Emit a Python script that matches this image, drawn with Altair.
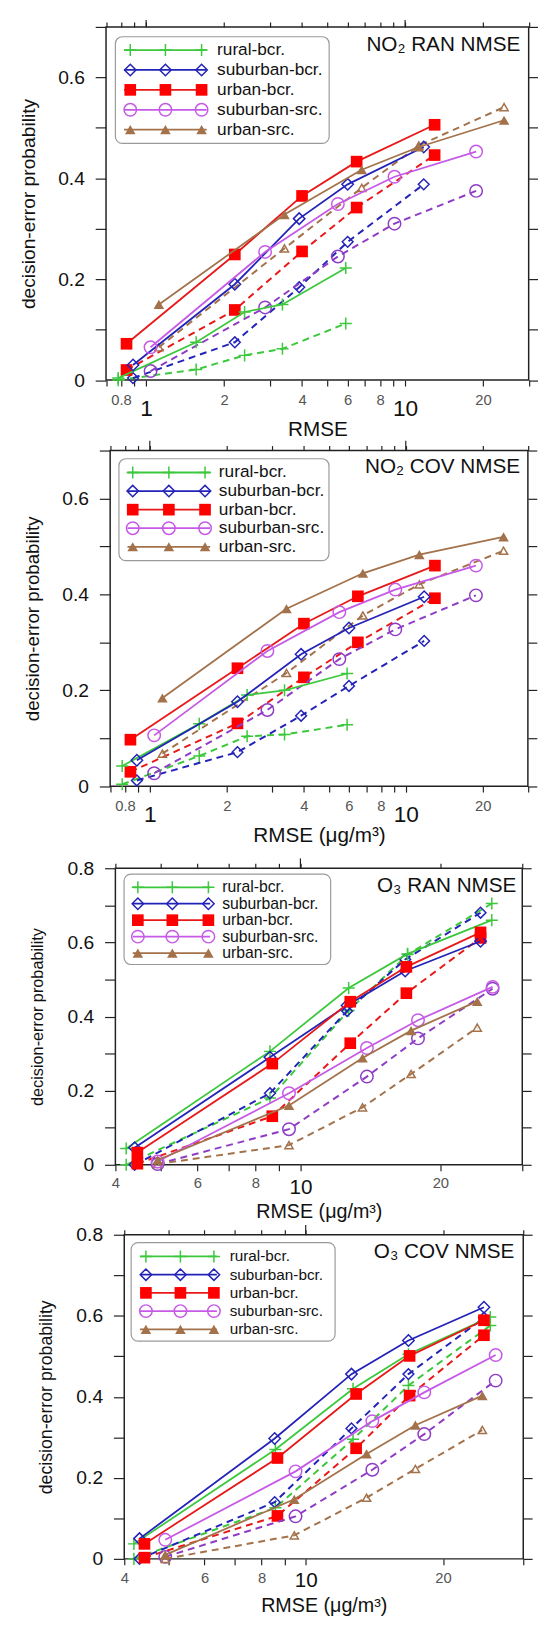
import json
import altair as alt
import pandas as pd

FONT = "Liberation Sans"

SERIES = ["rural-bcr.", "suburban-bcr.", "urban-bcr.", "suburban-src.", "urban-src."]

# ---------------- NO2 RAN NMSE ----------------
NO2_RAN_X = [
    [0.78, 1.56, 2.4, 3.36, 5.9],
    [0.89, 2.2, 3.9, 6.0, 11.8],
    [0.84, 2.2, 4.0, 6.5, 13.0],
    [1.04, 2.88, 5.5, 9.1, 18.8],
    [1.12, 3.42, 6.8, 11.3, 24.1],
]
NO2_RAN_SOLID = [
    [0.004, 0.075, 0.135, 0.15, 0.222],
    [0.03, 0.19, 0.32, 0.388, 0.462],
    [0.072, 0.249, 0.365, 0.433, 0.506],
    [0.065, 0.254, 0.349, 0.403, 0.453],
    [0.15, 0.328, 0.417, 0.462, 0.515],
]
NO2_RAN_DASHED = [
    [0.0, 0.021, 0.049, 0.062, 0.112],
    [0.004, 0.075, 0.184, 0.274, 0.388],
    [0.02, 0.139, 0.255, 0.342, 0.446],
    [0.018, 0.144, 0.245, 0.31, 0.375],
    [0.065, 0.261, 0.381, 0.465, 0.541],
]

# ---------------- NO2 COV NMSE ----------------
NO2_COV_X = [
    [0.78, 1.56, 2.4, 3.36, 5.9],
    [0.89, 2.2, 3.9, 6.0, 11.8],
    [0.84, 2.2, 4.0, 6.5, 13.0],
    [1.04, 2.88, 5.5, 9.1, 18.8],
    [1.12, 3.42, 6.8, 11.3, 24.1],
]
NO2_COV_SOLID = [
    [0.042, 0.13, 0.19, 0.20, 0.235],
    [0.054, 0.176, 0.275, 0.33, 0.395],
    [0.097, 0.246, 0.339, 0.396, 0.46],
    [0.106, 0.282, 0.363, 0.41, 0.46],
    [0.184, 0.37, 0.444, 0.483, 0.52],
]
NO2_COV_DASHED = [
    [0.004, 0.063, 0.104, 0.108, 0.128],
    [0.012, 0.071, 0.147, 0.209, 0.303],
    [0.03, 0.131, 0.227, 0.30, 0.392],
    [0.027, 0.159, 0.265, 0.327, 0.398],
    [0.068, 0.236, 0.356, 0.421, 0.491],
]

# ---------------- O3 RAN NMSE ----------------
O3_RAN_X = [
    [4.22, 8.6, 12.7, 17.0, 25.8],
    [4.4, 8.6, 12.6, 16.8, 24.4],
    [4.46, 8.7, 12.8, 16.9, 24.4],
    [4.93, 9.45, 13.9, 17.9, 25.9],
    [4.93, 9.45, 13.6, 17.3, 24.0],
]
O3_RAN_SOLID = [
    [0.044, 0.306, 0.477, 0.569, 0.66],
    [0.046, 0.29, 0.43, 0.523, 0.603],
    [0.033, 0.273, 0.44, 0.534, 0.627],
    [0.009, 0.193, 0.315, 0.39, 0.48],
    [0.013, 0.16, 0.288, 0.362, 0.441],
]
O3_RAN_DASHED = [
    [0.0, 0.18, 0.416, 0.567, 0.705],
    [0.0, 0.193, 0.415, 0.554, 0.68],
    [0.003, 0.131, 0.328, 0.463, 0.612],
    [0.002, 0.096, 0.238, 0.341, 0.475],
    [0.002, 0.053, 0.155, 0.245, 0.37],
]

# ---------------- O3 COV NMSE ----------------
O3_COV_X = [
    [4.2, 8.58, 12.7, 16.8, 25.4],
    [4.32, 8.55, 12.6, 16.8, 24.6],
    [4.43, 8.67, 12.9, 16.9, 24.6],
    [4.92, 9.5, 14.0, 18.2, 26.1],
    [4.92, 9.44, 13.6, 17.4, 24.4],
]
O3_COV_SOLID = [
    [0.037, 0.27, 0.42, 0.505, 0.597],
    [0.05, 0.297, 0.456, 0.539, 0.621],
    [0.037, 0.249, 0.407, 0.501, 0.589],
    [0.047, 0.216, 0.34, 0.411, 0.503],
    [0.01, 0.147, 0.259, 0.33, 0.403],
]
O3_COV_DASHED = [
    [0.0, 0.126, 0.295, 0.428, 0.576],
    [0.0, 0.14, 0.322, 0.456, 0.595],
    [0.003, 0.106, 0.273, 0.403, 0.552],
    [0.005, 0.105, 0.22, 0.308, 0.44],
    [0.0, 0.058, 0.151, 0.222, 0.318],
]

# ---------------- ticks ----------------
X_TICKS_NO2 = [0.7, 0.8, 0.9, 1, 2, 3, 4, 5, 6, 7, 8, 9, 10, 20, 30]
X_LABELS_NO2 = [0.8, 1, 2, 4, 6, 8, 10, 20]
X_TICKS_O3 = [4, 5, 6, 7, 8, 9, 10, 20, 30]
X_LABELS_O3 = [4, 6, 8, 10, 20]
X_MAJOR = [1, 10]
Y_TICKS_NO2 = [0, 0.1, 0.2, 0.3, 0.4, 0.5, 0.6, 0.7]
Y_LABELS_NO2 = [0, 0.2, 0.4, 0.6]
Y_TICKS_O3 = [0, 0.1, 0.2, 0.3, 0.4, 0.5, 0.6, 0.7, 0.8]
Y_LABELS_O3 = [0, 0.2, 0.4, 0.6, 0.8]

# ---------------- styles ----------------
CROSS = "M-1,0L1,0M0,-1L0,1"
STYLE = [
    dict(line="#3cc83c", dline="#3cc83c", mcol="#3cc83c", dmcol="#3cc83c", shape=CROSS,
         size=150, filled=False, dsize=150, dfilled=False),
    dict(line="#2323b8", dline="#2323b8", mcol="#2323b8", dmcol="#2323b8", shape="diamond",
         size=135, filled=False, dsize=120, dfilled=False),
    dict(line="#e81818", dline="#e81818", mcol="#ff0000", dmcol="#ff0000", shape="square",
         size=140, filled=True, dsize=140, dfilled=True),
    dict(line="#c65ae6", dline="#8e3cc6", mcol="#c65ae6", dmcol="#8e3cc6", shape="circle",
         size=160, filled=False, dsize=160, dfilled=False),
    dict(line="#a3724a", dline="#a3724a", mcol="#a3724a", dmcol="#a3724a", shape="triangle-up",
         size=115, filled=True, dsize=70, dfilled=False),
]

CANVAS_W, CANVAS_H = 540, 1622
DUMMY = pd.DataFrame({"d": [0]})
BIG = "datum.value == 1 || datum.value == 10"


def label_expr(labels):
    return f"indexof({json.dumps(labels)}, datum.value) >= 0 ? format(datum.value, '~g') : ''"


def panel_layers(xrows, srows, drows, c):
    L, R, T, Bm = c["L"], c["R"], c["T"], c["Bm"]
    xs = alt.Scale(type="log", domain=c["xdom"], range=[L, R], nice=False)
    ys = alt.Scale(domain=c["ydom"], range=[Bm, T], nice=False, zero=False)

    def enc(axis_x=None, axis_y=None):
        return dict(
            x=alt.X("x:Q", scale=xs, axis=axis_x),
            y=alt.Y("y:Q", scale=ys, axis=axis_y),
        )

    layers = []
    corner = pd.DataFrame({"x": c["xdom"], "y": c["ydom"]})

    # frame
    frame = pd.DataFrame({"x": [c["xdom"][0]], "x2": [c["xdom"][1]],
                          "y": [c["ydom"][0]], "y2": [c["ydom"][1]]})
    layers.append(
        alt.Chart(frame).mark_rect(fillOpacity=0, stroke="#222", strokeWidth=1.5).encode(
            x=alt.X("x:Q", scale=xs, axis=None), x2="x2:Q",
            y=alt.Y("y:Q", scale=ys, axis=None), y2="y2:Q",
        )
    )

    # axes
    bottom = alt.Axis(
        orient="bottom", offset=Bm - CANVAS_H, values=c["xticks"], grid=False, domain=False,
        tickSize=6, tickColor="#222", tickWidth=1.2,
        labelExpr=label_expr(c["xlabels"]), labelFont=FONT,
        labelFontSize={"condition": {"test": BIG, "value": c["bigfs"]}, "value": 15},
        labelColor={"condition": {"test": BIG, "value": "#111"}, "value": "#555"},
        labelPadding={"condition": {"test": BIG, "value": c["bigpad"]}, "value": c["smallpad"]},
        labelFlush=False, labelOverlap=False, labelBound=False,
        title=c["xtitle"], titleFont=FONT, titleFontSize=c["xtitle_fs"], titleFontWeight="normal",
        titleColor="#111", titleY=c["xtitle_y"], titleBaseline="middle",
    )
    left = alt.Axis(
        orient="left", offset=-L, values=c["yticks"], grid=False, domain=False,
        tickSize=11, tickColor="#222", tickWidth=1.2,
        labelExpr=label_expr(c["ylabels"]), labelFont=FONT, labelFontSize=19.5,
        labelColor="#111", labelPadding=11, labelOverlap=False,
        title="decision-error probability", titleFont=FONT, titleFontSize=c["ytitle_fs"],
        titleFontWeight="normal", titleColor="#111", titleX=-79, titleBaseline="middle",
    )
    top = alt.Axis(
        orient="top", offset=-T, values=c["xticks"], grid=False, domain=False, labels=False,
        tickSize=5, tickColor="#222", tickWidth=1.2, title=None,
    )
    right = alt.Axis(
        orient="right", offset=R - CANVAS_W, values=c["yticks"], grid=False, domain=False,
        labels=False, tickSize=9, tickColor="#222", tickWidth=1.2, title=None,
    )
    layers.append(alt.Chart(corner).mark_point(opacity=0).encode(**enc(bottom, left)))
    layers.append(alt.Chart(corner).mark_point(opacity=0).encode(**enc(top, None)))
    layers.append(alt.Chart(corner).mark_point(opacity=0).encode(**enc(None, right)))

    # taller top ticks at the decades
    major = pd.DataFrame({"x": [v for v in X_MAJOR if c["xdom"][0] <= v <= c["xdom"][1]]})
    layers.append(
        alt.Chart(major).mark_rule(color="#222", strokeWidth=1.2).encode(
            x=alt.X("x:Q", scale=xs, axis=None), y=alt.value(T - c["tall"]), y2=alt.value(T)
        )
    )

    # data: dashed first, then solid
    for kind in ("dashed", "solid"):
        rows = drows if kind == "dashed" else srows
        for i, st in enumerate(STYLE):
            df = pd.DataFrame({"x": xrows[i], "y": rows[i]})
            if kind == "dashed":
                ln = alt.Chart(df).mark_line(color=st["dline"], strokeWidth=2, strokeDash=[7, 5])
                pt = alt.Chart(df).mark_point(shape=st["shape"], size=st["dsize"], filled=st["dfilled"],
                                              color=st["dmcol"], opacity=1, strokeWidth=1.5)
            else:
                ln = alt.Chart(df).mark_line(color=st["line"], strokeWidth=1.8)
                pt = alt.Chart(df).mark_point(shape=st["shape"], size=st["size"], filled=st["filled"],
                                              color=st["mcol"], opacity=1, strokeWidth=1.5)
            layers.append(ln.encode(**enc()))
            layers.append(pt.encode(**enc()))

    # legend
    bx0, by0, bx1, by1 = c["box"]
    layers.append(
        alt.Chart(DUMMY).mark_rect(fill="white", stroke="#9a9a9a", strokeWidth=1.2, cornerRadius=7).encode(
            x=alt.value(L + bx0), x2=alt.value(L + bx1), y=alt.value(T + by0), y2=alt.value(T + by1)
        )
    )
    for i, (name, st) in enumerate(zip(SERIES, STYLE)):
        yy = T + c["ly0"] + i * c["ldy"]
        layers.append(
            alt.Chart(DUMMY).mark_rule(color=st["line"], strokeWidth=1.8).encode(
                x=alt.value(L + c["lx0"]), x2=alt.value(L + c["lx1"]), y=alt.value(yy)
            )
        )
        for mx in c["lmark"]:
            layers.append(
                alt.Chart(DUMMY).mark_point(shape=st["shape"], size=st["size"], filled=st["filled"],
                                            color=st["mcol"], opacity=1, strokeWidth=1.5).encode(
                    x=alt.value(L + mx), y=alt.value(yy)
                )
            )
        layers.append(
            alt.Chart(DUMMY).mark_text(text=name, align="left", baseline="middle", font=FONT,
                                       fontSize=c["lfs"], color="#111").encode(
                x=alt.value(L + c["ltx"]), y=alt.value(yy)
            )
        )

    # panel title
    layers.append(
        alt.Chart(DUMMY).mark_text(text=c["title"], align="right", baseline="middle", font=FONT,
                                   fontSize=21, color="#111").encode(
            x=alt.value(L + c["tx"]), y=alt.value(T + c["ty"])
        )
    )
    return layers


P1 = dict(L=99.5, R=528.5, T=7, Bm=365.5, xdom=[0.7, 30], ydom=[0, 0.7],
          xticks=X_TICKS_NO2, xlabels=X_LABELS_NO2, yticks=Y_TICKS_NO2, ylabels=Y_LABELS_NO2,
          bigfs=23, bigpad=12, smallpad=6.5, tall=7,
          xtitle="RMSE", xtitle_y=50.5, xtitle_fs=21, ytitle_fs=19.5,
          box=(9.5, 10, 226.5, 118.3), ly0=23.5, ldy=20.2, lx0=18.3, lx1=102.2,
          lmark=[24.6, 60.3, 97], ltx=112.7, lfs=17.5,
          title="NO₂ RAN NMSE", tx=420.5, ty=18.3)
P2 = dict(L=103.7, R=527.7, T=437, Bm=777.7, xdom=[0.7, 30], ydom=[0, 0.7],
          xticks=X_TICKS_NO2, xlabels=X_LABELS_NO2, yticks=Y_TICKS_NO2, ylabels=Y_LABELS_NO2,
          bigfs=23, bigpad=12, smallpad=6.5, tall=10,
          xtitle="RMSE (μg/m³)", xtitle_y=50.5, xtitle_fs=21, ytitle_fs=19,
          box=(8.9, 8.3, 222.1, 111.7), ly0=22.3, ldy=18.85, lx0=17.6, lx1=101.5,
          lmark=[22.9, 59.6, 96.3], ltx=110.3, lfs=17.5,
          title="NO₂ COV NMSE", tx=416, ty=16.7)
P3 = dict(L=109, R=522, T=861, Bm=1162, xdom=[4, 30], ydom=[0, 0.8],
          xticks=X_TICKS_O3, xlabels=X_LABELS_O3, yticks=Y_TICKS_O3, ylabels=Y_LABELS_O3,
          bigfs=21, bigpad=6, smallpad=5.5, tall=10,
          xtitle="RMSE (μg/m³)", xtitle_y=48, xtitle_fs=20, ytitle_fs=16.5,
          box=(8.8, 6, 218.5, 97.7), ly0=19.3, ldy=16.7, lx0=17.6, lx1=96.2,
          lmark=[22.8, 57.8, 94.4], ltx=108.4, lfs=16,
          title="O₃ RAN NMSE", tx=407, ty=17.7)
P4 = dict(L=118, R=523, T=1233, Bm=1562, xdom=[4, 30], ydom=[0, 0.8],
          xticks=X_TICKS_O3, xlabels=X_LABELS_O3, yticks=Y_TICKS_O3, ylabels=Y_LABELS_O3,
          bigfs=21, bigpad=5.5, smallpad=5.5, tall=10,
          xtitle="RMSE (μg/m³)", xtitle_y=47.5, xtitle_fs=20, ytitle_fs=18,
          box=(7, 8, 214, 108), ly0=22, ldy=18.5, lx0=16, lx1=94,
          lmark=[22, 57, 91], ltx=107, lfs=15.5,
          title="O₃ COV NMSE", tx=396, ty=18)

all_layers = (
    panel_layers(NO2_RAN_X, NO2_RAN_SOLID, NO2_RAN_DASHED, P1)
    + panel_layers(NO2_COV_X, NO2_COV_SOLID, NO2_COV_DASHED, P2)
    + panel_layers(O3_RAN_X, O3_RAN_SOLID, O3_RAN_DASHED, P3)
    + panel_layers(O3_COV_X, O3_COV_SOLID, O3_COV_DASHED, P4)
)

chart = (
    alt.layer(*all_layers)
    .resolve_scale(x="independent", y="independent")
    .properties(width=CANVAS_W, height=CANVAS_H, padding=0,
                autosize=alt.AutoSizeParams(type="none"))
    .configure(font=FONT)
    .configure_view(stroke=None)
)

chart.save("out.html", embed_options={"renderer": "svg", "actions": False})
